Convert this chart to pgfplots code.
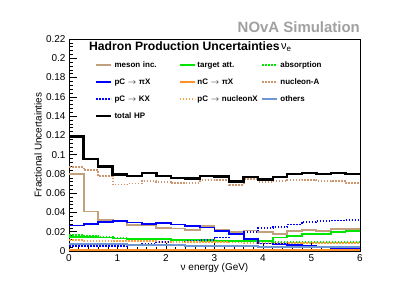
\documentclass[border=0pt]{standalone}
\usepackage{fontspec}
\setmainfont{Liberation Sans}
\usepackage{pgfplots}
\usepackage{pgfplotstable}
\pgfplotsset{compat=1.18}
\definecolor{tanc}{RGB}{195,160,125}
\definecolor{nucA}{RGB}{205,150,110}
\definecolor{blueK}{RGB}{0,0,255}
\definecolor{greenc}{RGB}{0,230,0}
\definecolor{orangec}{RGB}{255,145,40}
\definecolor{orangedot}{RGB}{255,160,60}
\definecolor{othersc}{RGB}{110,150,210}
\definecolor{titlegray}{RGB}{160,160,160}

\pgfplotstableread{
x meson piX KX tatt nCpi absorp nucX nucA others total
0.0 0.080 0.0265 0.005 0.0145 0.001 0.017 0.011 0.087 0.0075 0.119
0.3 0.041 0.028 0.005 0.0145 0.001 0.016 0.0105 0.084 0.0075 0.0956
0.6 0.032 0.030 0.005 0.014 0.001 0.0145 0.0105 0.078 0.007 0.0876
0.9 0.031 0.031 0.005 0.013 0.001 0.0135 0.010 0.069 0.007 0.0794
1.2 0.0272 0.0296 0.006 0.0125 0.001 0.013 0.010 0.070 0.0065 0.0777
1.5 0.0272 0.028 0.0075 0.012 0.001 0.0125 0.010 0.073 0.0065 0.0807
1.8 0.0238 0.029 0.009 0.012 0.001 0.012 0.0095 0.072 0.006 0.078
2.1 0.0234 0.0275 0.0095 0.0118 0.001 0.0115 0.0095 0.0705 0.006 0.076
2.4 0.0218 0.0258 0.0105 0.011 0.001 0.011 0.009 0.071 0.0055 0.0753
2.7 0.0258 0.0244 0.0115 0.011 0.001 0.0105 0.009 0.0735 0.0055 0.078
3.0 0.0216 0.0206 0.014 0.0108 0.0015 0.0105 0.009 0.074 0.005 0.0773
3.3 0.020 0.0172 0.0175 0.0106 0.0015 0.010 0.0088 0.0688 0.005 0.072
3.6 0.0213 0.0128 0.020 0.0106 0.0015 0.010 0.0085 0.075 0.005 0.0766
3.9 0.020 0.0078 0.024 0.0105 0.0015 0.010 0.0085 0.0715 0.0045 0.0742
4.2 0.018 0.0070 0.025 0.014 0.0015 0.0095 0.0085 0.0725 0.0045 0.077
4.5 0.0206 0.006 0.0275 0.0156 0.0015 0.0095 0.0083 0.0735 0.004 0.080
4.8 0.0215 0.0055 0.030 0.018 0.0015 0.0095 0.0082 0.074 0.004 0.081
5.1 0.021 0.0045 0.031 0.018 0.0015 0.0095 0.008 0.0725 0.004 0.0797
5.4 0.0224 0.003 0.0316 0.0196 0.0015 0.0095 0.008 0.073 0.004 0.081
5.7 0.0224 0.0035 0.0323 0.021 0.0015 0.0095 0.008 0.071 0.004 0.0797
6.0 0.0224 0.0035 0.0323 0.021 0.0015 0.0095 0.008 0.071 0.004 0.0797
}\data

\begin{document}
\begin{tikzpicture}
\useasboundingbox (0bp,0bp) rectangle (399bp,299bp);
\begin{axis}[
  at={(69bp,48bp)}, anchor=south west,
  scale only axis, width=291bp, height=212bp,
  xmin=0, xmax=6, ymin=0, ymax=0.22,
  xtick={0,1,2,3,4,5,6},
  ytick={0,0.02,0.04,0.06,0.08,0.1,0.12,0.14,0.16,0.18,0.2,0.22},
  minor x tick num=4, minor y tick num=4,
  xtick pos=bottom, ytick pos=left, tick align=inside,
  major tick length=8bp, minor tick length=4bp,
  scaled y ticks=false,
  yticklabel style={/pgf/number format/fixed,/pgf/number format/precision=2},
  /pgf/number format/assume math mode=true,
  tick label style={font=\fontsize{10}{12}\selectfont},
  xlabel={ν energy (GeV)}, ylabel={Fractional Uncertainties},
  label style={font=\fontsize{12}{14}\selectfont},
  every axis x label/.style={at={(axis description cs:0.5,-0.08)},anchor=center},
  every axis y label/.style={at={(axis description cs:-0.1065,0.5)},anchor=center,rotate=90},
  axis line style={line width=0.6bp},
  every tick/.style={black, line width=0.5bp},
  legend columns=3,
  legend cell align=left,
  legend style={draw=none, fill=none, at={(axis description cs:0.0893,0.8965)}, anchor=north west,
    inner sep=0pt, font=\bfseries\fontsize{8}{9}\selectfont, row sep=9.5bp,
    nodes={inner sep=0pt, text height=6bp, text depth=1.5bp, text width=62bp, align=left},
    /tikz/every odd column/.append style={column sep=2bp},
    /tikz/every even column/.append style={column sep=2bp}},
  legend image code/.code={\draw[#1] (0bp,0bp) -- (15bp,0bp);},
  every axis plot/.append style={const plot, no markers},
]
\addplot[tanc, line width=1.9bp] table[x=x,y=meson]{\data};
\addlegendentry{meson inc.}
\addplot[greenc, line width=1.9bp] table[x=x,y=tatt]{\data};
\addlegendentry{target att.}
\addplot[greenc, line width=1.9bp, dash pattern=on 1.5bp off 1.5bp] table[x=x,y=absorp]{\data};
\addlegendentry{absorption}
\addplot[blueK, line width=1.9bp] table[x=x,y=piX]{\data};
\addlegendentry{pC $\rightarrow$ πX}
\addplot[orangec, line width=1.9bp] table[x=x,y=nCpi]{\data};
\addlegendentry{nC $\rightarrow$ πX}
\addplot[nucA, line width=1.9bp, dash pattern=on 1.5bp off 1.5bp] table[x=x,y=nucA]{\data};
\addlegendentry{nucleon-A}
\addplot[blueK, line width=1.9bp, dash pattern=on 1.5bp off 1.5bp] table[x=x,y=KX]{\data};
\addlegendentry{pC $\rightarrow$ KX}
\addplot[orangedot, line width=1.9bp, dash pattern=on 1.5bp off 1.5bp] table[x=x,y=nucX]{\data};
\addlegendentry{pC $\rightarrow$ nucleonX}
\addplot[othersc, line width=1.9bp] table[x=x,y=others]{\data};
\addlegendentry{others}
\addplot[black, line width=2.4bp] table[x=x,y=total]{\data};
\addlegendentry{total HP}
\end{axis}
\node[anchor=east, inner sep=0pt, text=titlegray, font=\bfseries\fontsize{15}{17}\selectfont] at (360bp,272.3bp) {NOvA Simulation};
\node[anchor=west, inner sep=0pt, font=\bfseries\fontsize{12.2}{14}\selectfont] at (89bp,253bp) {Hadron Production Uncertainties};
\node[anchor=base west, inner sep=0pt, font=\fontsize{11}{13}\selectfont] at (281bp,249.5bp) {ν\raisebox{-2.5bp}{\fontsize{8}{9}\selectfont e}};
\end{tikzpicture}
\end{document}
